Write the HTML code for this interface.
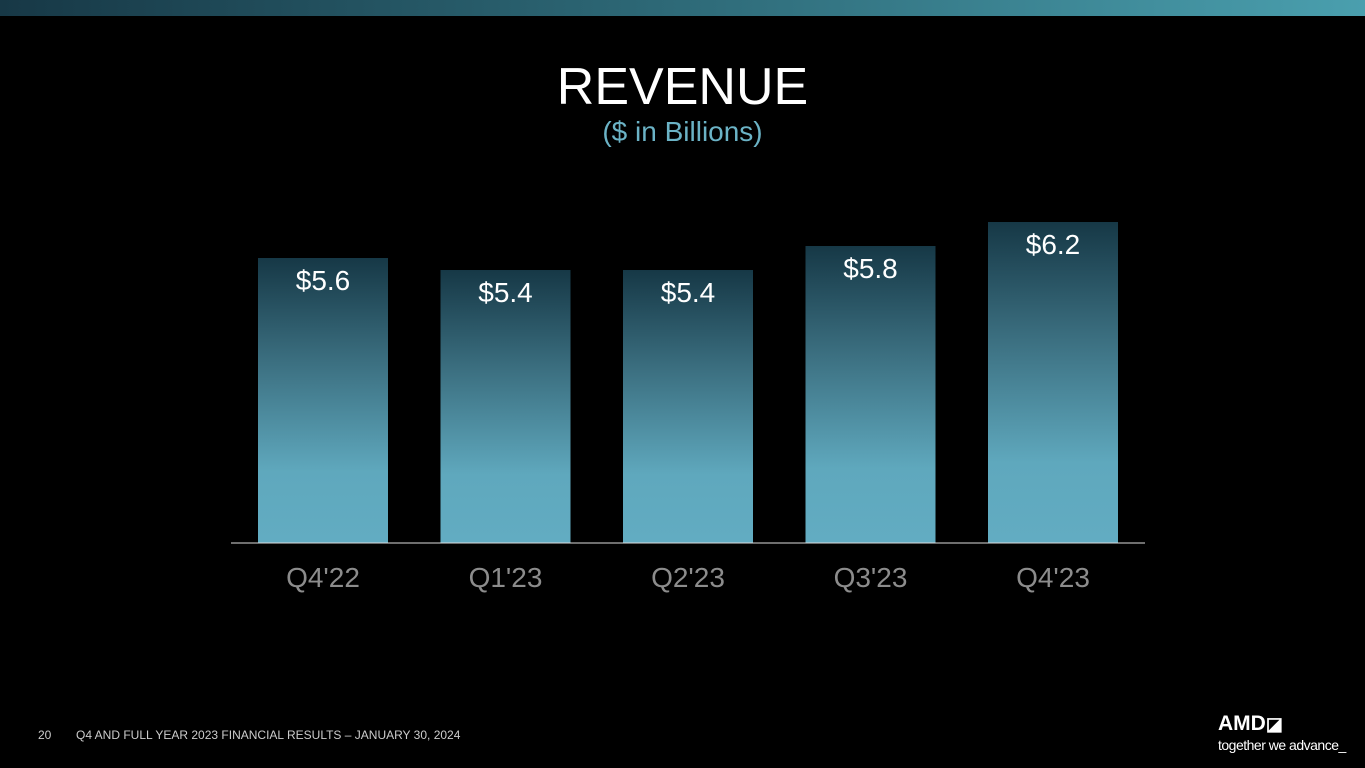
<!DOCTYPE html>
<html><head><meta charset="utf-8"><style>
body{margin:0;width:1365px;height:768px;background:#000;overflow:hidden;font-family:"Liberation Sans",sans-serif;position:relative}
.abs{position:absolute}
</style></head><body>
<div class="abs" style="left:0;top:0;width:1365px;height:16px;background:linear-gradient(90deg,#173846,#2e6a78 50%,#4a9fae)"></div>
<div class="abs" style="left:0;top:57px;width:1365px;text-align:center;color:#fff;font-size:52px">REVENUE</div>
<div class="abs" style="left:0;top:116px;width:1365px;text-align:center;color:#6bb3c6;font-size:28px">($ in Billions)</div>
<svg class="abs" style="left:0;top:0" width="1365" height="768">
<defs><linearGradient id="g" x1="0" y1="0" x2="0" y2="1"><stop offset="0" stop-color="#163846"/><stop offset="0.35" stop-color="#3a6d7e"/><stop offset="0.75" stop-color="#5fa8bd"/><stop offset="1" stop-color="#62acc2"/></linearGradient></defs>
<g id="bars"></g>
<line x1="231" x2="1145" y1="543" y2="543" stroke="#ddd" stroke-width="1"/>
</svg>
<div class="abs" style="left:38px;top:728px;color:#ccc;font-size:12px">20</div>
<div class="abs" style="left:76px;top:728px;color:#ccc;font-size:12px">Q4 AND FULL YEAR 2023 FINANCIAL RESULTS – JANUARY 30, 2024</div>
<div class="abs" style="left:1218px;top:712px;color:#fff;font-size:21px;font-weight:bold;letter-spacing:0">AMD<span style="font-size:18px">◪</span></div>
<div class="abs" style="left:1218px;top:737px;color:#fff;font-size:14px;letter-spacing:-0.5px">together we advance_</div>
<script>
const categories=["Q4'22","Q1'23","Q2'23","Q3'23","Q4'23"];
const values=[5.6,5.4,5.4,5.8,6.2];
const valueLabels=["$5.6","$5.4","$5.4","$5.8","$6.2"];
const base=543,x0=258,step=182.5,bw=130;
const y=v=>base-(v-0.85)*60;
const ns="http://www.w3.org/2000/svg",g=document.getElementById('bars');
values.forEach((v,i)=>{
 const x=x0+i*step;
 const r=document.createElementNS(ns,'rect');
 r.setAttribute('x',x);r.setAttribute('y',y(v));r.setAttribute('width',bw);r.setAttribute('height',base-y(v));r.setAttribute('fill','url(#g)');
 
 
 g.appendChild(r);
 const t=document.createElementNS(ns,'text');
 t.setAttribute('x',x+bw/2);t.setAttribute('y',y(v)+32);t.setAttribute('text-anchor','middle');t.setAttribute('fill','#fff');t.setAttribute('font-size','28');
 t.textContent=valueLabels[i];
 
 
 g.appendChild(t);
 const c=document.createElementNS(ns,'text');
 c.setAttribute('x',x+bw/2);c.setAttribute('y',587);c.setAttribute('text-anchor','middle');c.setAttribute('fill','#8c8c8c');c.setAttribute('font-size','28');
 c.textContent=categories[i];
 
 
 g.appendChild(c);
});
</script>
</body></html>
